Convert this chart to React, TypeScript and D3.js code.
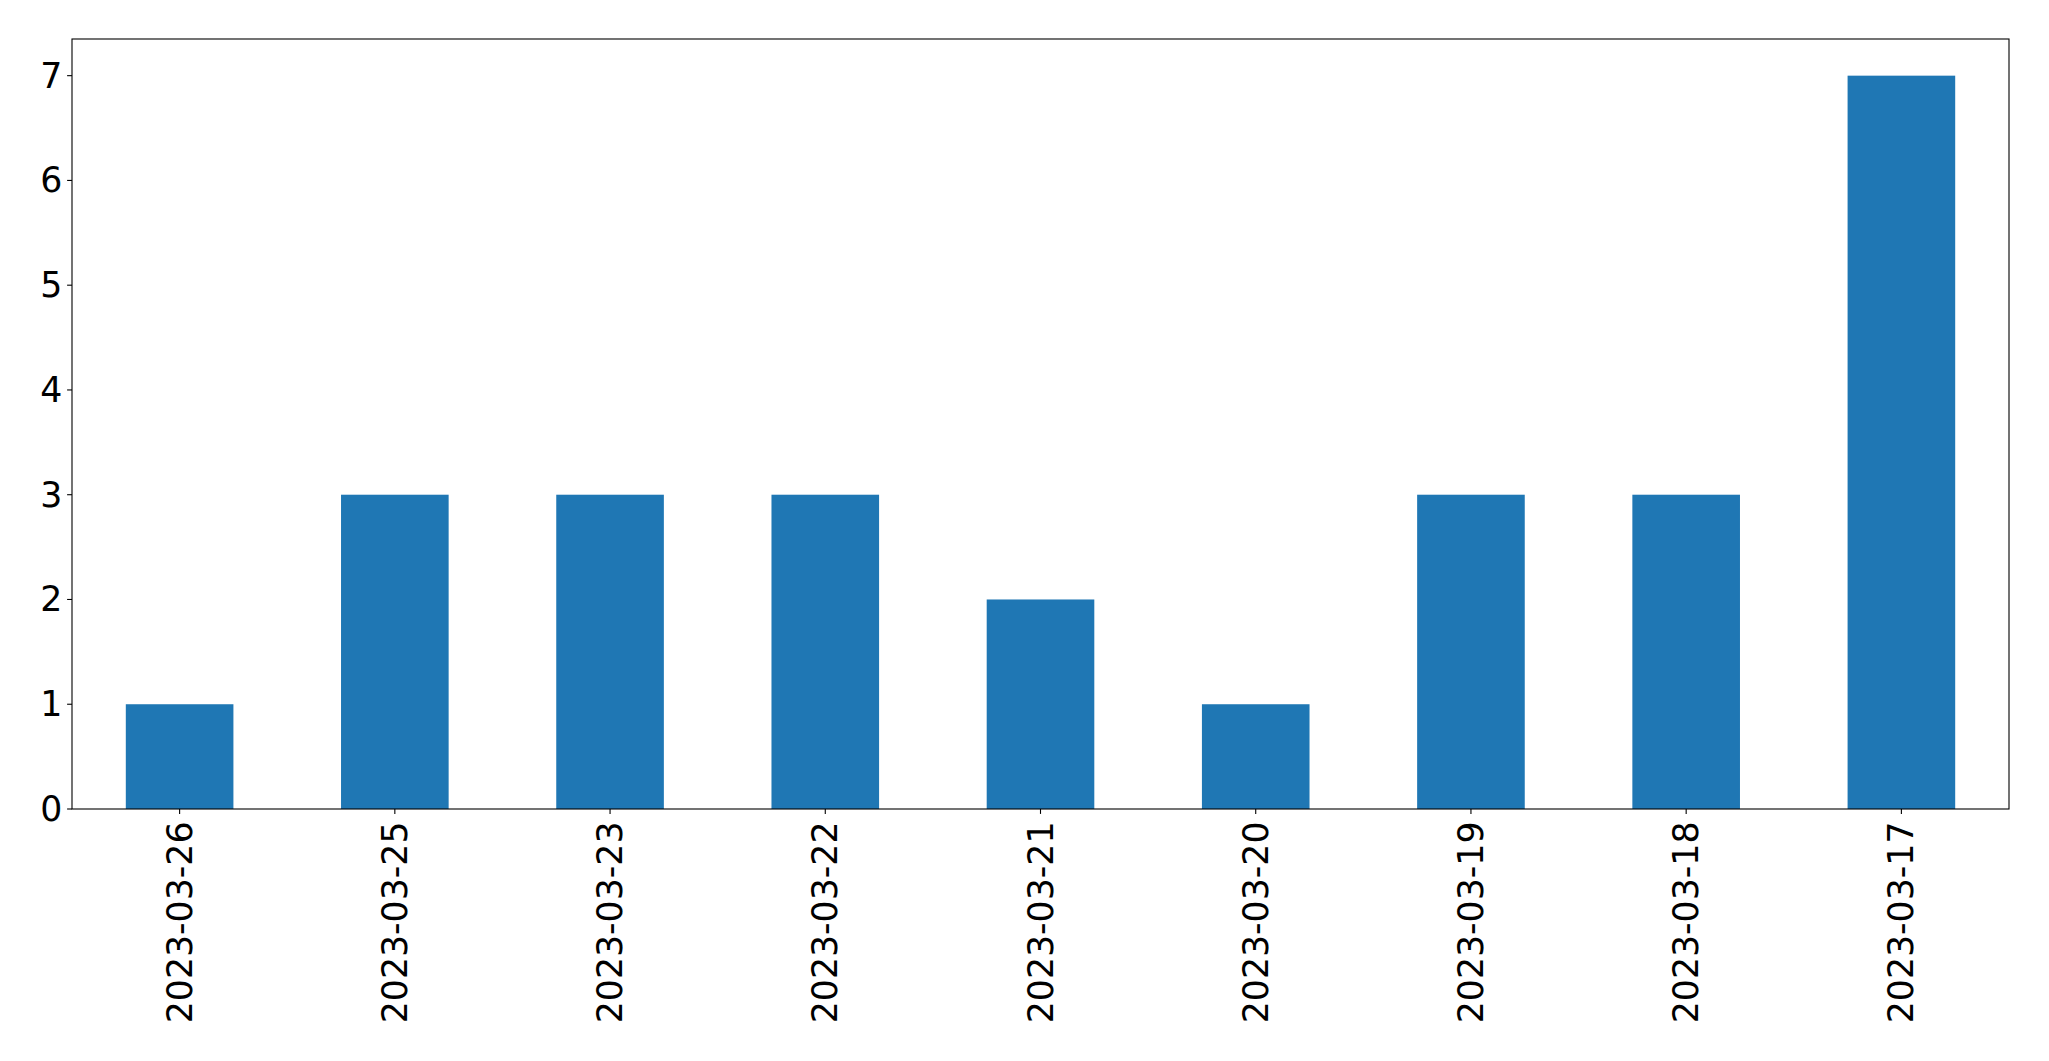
import React from "react";
import * as d3 from "d3";

const categories = ["2023-03-26", "2023-03-25", "2023-03-23", "2023-03-22", "2023-03-21", "2023-03-20", "2023-03-19", "2023-03-18", "2023-03-17"];
const values = [1, 3, 3, 3, 2, 1, 3, 3, 7];
const yTicks = [0, 1, 2, 3, 4, 5, 6, 7];

const W = 2049, H = 1061;
const L = 72, T = 39, R = 2009, B = 809;

export default function App() {
  const x = d3.scaleLinear().domain([-0.5, categories.length - 0.5]).range([L, R]);
  const y = d3.scaleLinear().domain([0, 7.35]).range([B, T]);
  const fs = 34.72;
  const font = "DejaVu Sans";
  return (
    <svg width={W} height={H} style={{ position: "absolute", left: 0, top: 0 }} fontFamily={font}>
      <rect x={0} y={0} width={W} height={H} fill="#fff" />
      {values.map((v, i) => (
        <rect key={i} x={x(i - 0.25)} y={y(v)} width={x(i + 0.25) - x(i - 0.25)} height={y(0) - y(v)} fill="#1f77b4" />
      ))}
      <rect x={L} y={T} width={R - L} height={B - T} fill="none" stroke="#000" strokeWidth={1.1} />
      {yTicks.map((t) => (
        <g key={t}>
          <line x1={L - 4.9} x2={L} y1={y(t)} y2={y(t)} stroke="#000" strokeWidth={1.1} />
          <text x={L - 9.7} y={y(t)} textAnchor="end" dominantBaseline="central" fontSize={fs} fill="#000">{t}</text>
        </g>
      ))}
      {categories.map((c, i) => (
        <g key={c}>
          <line x1={x(i)} x2={x(i)} y1={B} y2={B + 4.9} stroke="#000" strokeWidth={1.1} />
          <text transform={`translate(${x(i)},${B + 12.5}) rotate(-90)`} textAnchor="end" dominantBaseline="central" fontSize={fs} fill="#000">{c}</text>
        </g>
      ))}
    </svg>
  );
}
